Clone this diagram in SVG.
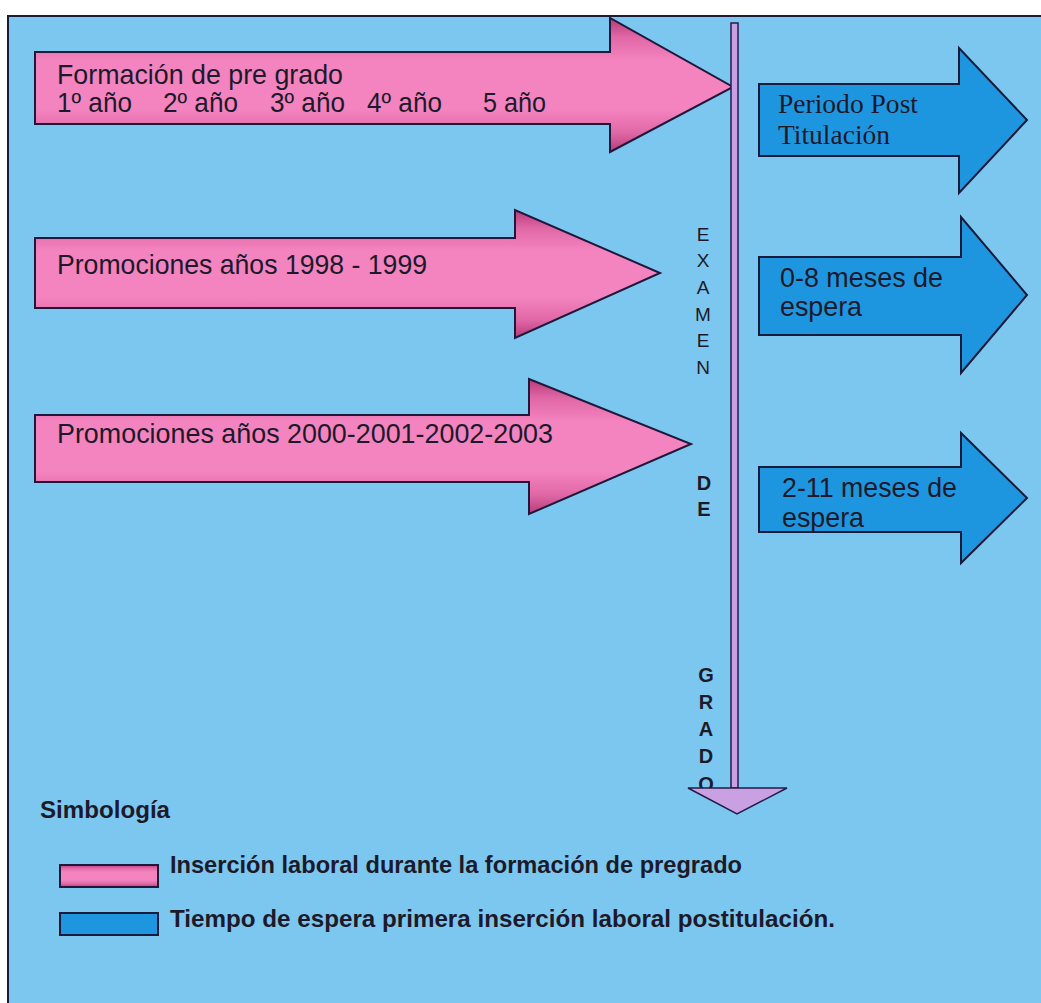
<svg xmlns="http://www.w3.org/2000/svg" width="1041" height="1003" viewBox="0 0 1041 1003">
  <style>
    .frame { fill: #7cc7ef; stroke: #1c1c34; stroke-width: 2; }
    .pink { fill: url(#pinkFill); stroke: #20183a; stroke-width: 2; stroke-linejoin: miter; }
    .blue { fill: #1e96df; stroke: #1a1a3a; stroke-width: 2; stroke-linejoin: miter; }
    .lbl { font-family: "Liberation Sans", Arial, sans-serif; font-size: 28px; fill: #1c1a2a; }
    .lblb { font-family: "Liberation Sans", Arial, sans-serif; font-size: 28px; fill: #1c1a2a; }
    .serif { font-family: "Liberation Serif", "Times New Roman", serif; font-size: 28px; fill: #1c1a2a; }
    .vert { font-family: "Liberation Sans", Arial, sans-serif; font-size: 19px; fill: #1c1a2a; text-anchor: middle; }
    .vertb { font-family: "Liberation Sans", Arial, sans-serif; font-size: 20px; font-weight: bold; fill: #1c1a2a; text-anchor: middle; }
    .legend { font-family: "Liberation Sans", Arial, sans-serif; font-size: 24px; font-weight: bold; fill: #1c1a2a; }
    .stem { fill: #c9a0e2; stroke: #241c4a; stroke-width: 1.5; }
  </style>
  <defs>
    <linearGradient id="pinkFill" x1="0" y1="0" x2="0" y2="1">
      <stop offset="0" stop-color="#b53a7b"/>
      <stop offset="0.14" stop-color="#e067a6"/>
      <stop offset="0.32" stop-color="#f484c0"/>
      <stop offset="0.68" stop-color="#f484c0"/>
      <stop offset="0.86" stop-color="#e067a6"/>
      <stop offset="1" stop-color="#b53a7b"/>
    </linearGradient>
    <clipPath id="clipC">
      <rect x="760" y="468" width="200" height="63"/>
    </clipPath>
  </defs>

  <!-- page and panel -->
  <rect x="0" y="0" width="1041" height="1003" fill="#ffffff"/>
  <rect class="frame" x="8" y="16" width="1045" height="1000"/>

  <!-- undergraduate arrows -->
  <g id="formacion">
    <path class="pink" d="M35,52 H610 V18 L733,87 L610,152 V124 H35 Z"/>
    <text class="lbl" x="57" y="84" textLength="286" lengthAdjust="spacingAndGlyphs">Formación de pre grado</text>
    <text class="lbl" x="57" y="112" textLength="75" lengthAdjust="spacingAndGlyphs">1º año</text>
    <text class="lbl" x="163" y="112" textLength="75" lengthAdjust="spacingAndGlyphs">2º año</text>
    <text class="lbl" x="270" y="112" textLength="75" lengthAdjust="spacingAndGlyphs">3º año</text>
    <text class="lbl" x="367" y="112" textLength="75" lengthAdjust="spacingAndGlyphs">4º año</text>
    <text class="lbl" x="483" y="112" textLength="63" lengthAdjust="spacingAndGlyphs">5 año</text>
  </g>
  <g id="promo-1998">
    <path class="pink" d="M35,238 H515 V210 L660,273 L515,338 V308 H35 Z"/>
    <text class="lbl" x="57" y="274" textLength="370" lengthAdjust="spacingAndGlyphs">Promociones años 1998 - 1999</text>
  </g>
  <g id="promo-2000">
    <path class="pink" d="M35,415 H529 V379 L691,444 L529,514 V482 H35 Z"/>
    <text class="lbl" x="57" y="443" textLength="496" lengthAdjust="spacingAndGlyphs">Promociones años 2000-2001-2002-2003</text>
  </g>

  <!-- post-degree arrows -->
  <g id="post-titulacion">
    <path class="blue" d="M759,84 H959 V48 L1027,120 L959,193 V156 H759 Z"/>
    <text class="serif" x="778" y="113" textLength="140" lengthAdjust="spacingAndGlyphs">Periodo Post</text>
    <text class="serif" x="778" y="144" textLength="112" lengthAdjust="spacingAndGlyphs">Titulación</text>
  </g>
  <g id="espera-0-8">
    <path class="blue" d="M759,257 H961 V217 L1027,295 L961,373 V335 H759 Z"/>
    <text class="lbl" x="780" y="287" textLength="163" lengthAdjust="spacingAndGlyphs">0-8 meses de</text>
    <text class="lbl" x="780" y="316" textLength="82" lengthAdjust="spacingAndGlyphs">espera</text>
  </g>
  <g id="espera-2-11">
    <path class="blue" d="M759,467 H961 V433 L1027,498 L961,563 V532 H759 Z"/>
    <text class="lbl" x="782" y="497" textLength="175" lengthAdjust="spacingAndGlyphs">2-11 meses de</text>
    <text class="lbl" x="782" y="527" textLength="82" lengthAdjust="spacingAndGlyphs" clip-path="url(#clipC)">espera</text>
  </g>

  <!-- degree exam divider -->
  <g id="connectors">
    <rect class="stem" x="731" y="23" width="7" height="765"/>
  </g>
  <g id="examen-label">
    <text class="vert" x="703" y="241">E</text>
    <text class="vert" x="703" y="267">X</text>
    <text class="vert" x="703" y="294">A</text>
    <text class="vert" x="703" y="321">M</text>
    <text class="vert" x="703" y="347">E</text>
    <text class="vert" x="703" y="374">N</text>
    <text class="vertb" x="704" y="490">D</text>
    <text class="vertb" x="704" y="516">E</text>
    <text class="vertb" x="706" y="682">G</text>
    <text class="vertb" x="706" y="709">R</text>
    <text class="vertb" x="706" y="736">A</text>
    <text class="vertb" x="706" y="763">D</text>
    <text class="vertb" x="706" y="791">O</text>
  </g>
  <!-- arrowhead of the divider, drawn over the last letter -->
  <g id="divider-head">
    <path class="stem" d="M688,788 H787 L737,814 Z"/>
  </g>

  <!-- legend -->
  <g id="legend">
    <text class="legend" x="40" y="818" textLength="130" lengthAdjust="spacingAndGlyphs">Simbología</text>
    <rect class="pink" x="60" y="865" width="98" height="22"/>
    <text class="legend" x="170" y="873" textLength="572" lengthAdjust="spacingAndGlyphs">Inserción laboral durante la formación de pregrado</text>
    <rect class="blue" x="60" y="913" width="98" height="22"/>
    <text class="legend" x="170" y="927" textLength="665" lengthAdjust="spacingAndGlyphs">Tiempo de espera primera inserción laboral postitulación.</text>
  </g>
</svg>
